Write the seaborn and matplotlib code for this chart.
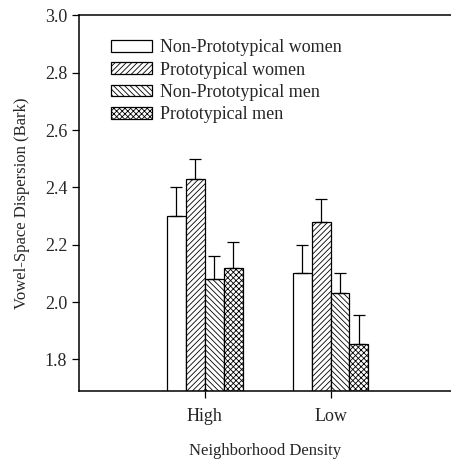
import matplotlib
matplotlib.use("Agg")
import matplotlib.pyplot as plt
import numpy as np
import pandas as pd
import seaborn as sns

# values
density = ["High", "Low"]
groups = [
    "Non-Prototypical women",
    "Prototypical women",
    "Non-Prototypical men",
    "Prototypical men",
]
means = {
    "Non-Prototypical women": [2.30, 2.10],
    "Prototypical women": [2.43, 2.28],
    "Non-Prototypical men": [2.08, 2.03],
    "Prototypical men": [2.12, 1.855],
}
upper = {
    "Non-Prototypical women": [2.40, 2.20],
    "Prototypical women": [2.50, 2.36],
    "Non-Prototypical men": [2.16, 2.10],
    "Prototypical men": [2.21, 1.955],
}
hatches = ["", "//////", "\\\\\\\\\\\\", "xxxxxx"]

rows = []
for g in groups:
    for i, d in enumerate(density):
        rows.append({"density": d, "group": g, "mean": means[g][i], "upper": upper[g][i]})
df = pd.DataFrame(rows)

sns.set_theme(style="ticks")
plt.rcParams["font.family"] = ["Liberation Serif", "DejaVu Serif"]
plt.rcParams["hatch.linewidth"] = 0.6

fig = plt.figure(figsize=(4.51, 4.62), dpi=100)
ax = fig.add_axes([79 / 451, 71 / 462, 372 / 451, 375.7 / 462])

sns.barplot(
    data=df, x="density", y="mean", hue="group", hue_order=groups,
    order=density, width=0.6, errorbar=None, ax=ax,
    palette=["white"] * 4, edgecolor="black", linewidth=0.9, saturation=1,
)

bar_containers = list(ax.containers)
for k, cont in enumerate(bar_containers):
    g = groups[k]
    for j, bar in enumerate(cont):
        bar.set_facecolor("white")
        bar.set_edgecolor("black")
        bar.set_hatch(hatches[k])
        cx = bar.get_x() + bar.get_width() / 2
        top = means[g][j]
        ax.errorbar(cx, top, yerr=[[0], [upper[g][j] - top]], fmt="none",
                    ecolor="black", elinewidth=0.9, capsize=4.3, capthick=0.9)

ax.set_xlim(-1.0, 1.957)
ax.set_ylim(1.69, 3.0)
ax.set_yticks(np.arange(1.8, 3.01, 0.2))
ax.set_yticklabels([f"{v:.1f}" for v in np.arange(1.8, 3.01, 0.2)], fontsize=13)
ax.set_xticks(range(len(density)))
ax.set_xticklabels(density, fontsize=13)
ax.tick_params(axis="both", direction="out", length=5, width=0.9, color="black")
ax.tick_params(axis="x", pad=7)
ax.set_xlabel("Neighborhood Density", fontsize=12, labelpad=13)
ax.set_ylabel("Vowel-Space Dispersion (Bark)", fontsize=12, labelpad=11)

ax.spines["right"].set_visible(False)
for s in ["left", "bottom", "top"]:
    ax.spines[s].set_linewidth(1.1)
    ax.spines[s].set_color("black")

handles, labels = ax.get_legend_handles_labels()
for h, hatch in zip(handles, hatches):
    h.set_hatch(hatch)
    h.set_facecolor("white")
    h.set_edgecolor("black")
ax.legend(handles, labels, loc="upper left", bbox_to_anchor=(0.067, 0.955),
          frameon=False, fontsize=13, handlelength=2.27, handleheight=0.62,
          handletextpad=0.45, labelspacing=0.29, borderaxespad=0)

fig.savefig("out.png", dpi=100)
